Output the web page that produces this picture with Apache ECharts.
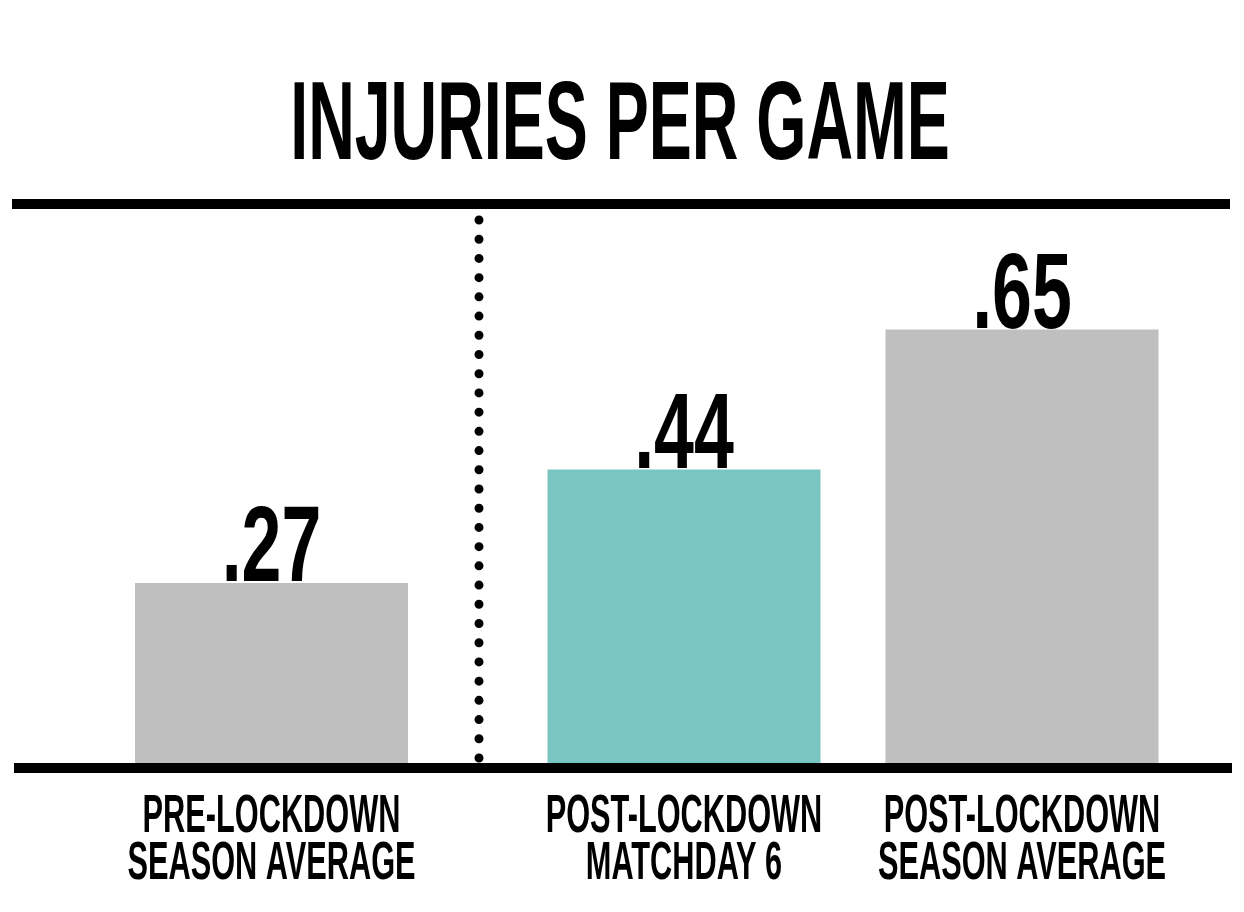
<!DOCTYPE html>
<html>
<head>
<meta charset="utf-8">
<script src="https://cdn.jsdelivr.net/npm/echarts@6/dist/echarts.min.js"></script>
<style>
  html, body { margin: 0; padding: 0; background: #fff; }
  #chart { width: 1244px; height: 912px; }
</style>
</head>
<body>
<div id="chart"></div>
<script>
// ---------- DATA ----------
const titleText = 'INJURIES PER GAME';
const categories = ['PRE-LOCKDOWN\nSEASON AVERAGE', 'POST-LOCKDOWN\nMATCHDAY 6', 'POST-LOCKDOWN\nSEASON AVERAGE'];
const values = [0.27, 0.44, 0.65];
const valueLabels = ['.27', '.44', '.65'];
const preLockdownCount = 1; // first category is pre-lockdown, rest are post-lockdown

// ---------- STYLE ----------
const FONT = '"Liberation Sans", Arial, sans-serif';
const GREY = '#bfbfbf';
const TEAL = '#78c5c1';
const HIGHLIGHT_INDEX = 1;
const BAR_WIDTH = 273;
const GRID_TOP = 96;
const GRID_BOTTOM = 149;

const chart = echarts.init(document.getElementById('chart'));

const groups = [
  { cats: categories.slice(0, preLockdownCount), vals: values.slice(0, preLockdownCount), offset: 0 },
  { cats: categories.slice(preLockdownCount), vals: values.slice(preLockdownCount), offset: preLockdownCount }
];
const gridDefs = [
  { left: 100, width: 343, top: GRID_TOP, bottom: GRID_BOTTOM },
  { left: 515, width: 676, top: GRID_TOP, bottom: GRID_BOTTOM }
];

function labelRenderer(offset) {
  return function (params, api) {
    const gi = offset + params.dataIndex;
    const top = api.coord([api.value(0), api.value(1)]);
    const base = api.coord([api.value(0), 0]);
    const lines = categories[gi].split('\n');
    const children = [{
      type: 'text', x: top[0], y: top[1] - 31, scaleX: 0.67,
      style: { text: valueLabels[gi], font: 'bold 107px ' + FONT, fill: '#000', align: 'center', verticalAlign: 'middle' }
    }];
    lines.forEach(function (ln, i) {
      children.push({
        type: 'text', x: base[0], y: base[1] + 54 + i * 47.5, scaleX: 0.58,
        style: { text: ln, font: 'bold 53px ' + FONT, fill: '#000', align: 'center', verticalAlign: 'middle' }
      });
    });
    return { type: 'group', children: children };
  };
}

const series = [];
groups.forEach(function (g, k) {
  series.push({
    type: 'bar', xAxisIndex: k, yAxisIndex: k, barWidth: BAR_WIDTH, silent: true,
    data: g.vals.map(function (v, i) {
      return { value: v, itemStyle: { color: (g.offset + i) === HIGHLIGHT_INDEX ? TEAL : GREY } };
    }),
    z: 2
  });
  series.push({
    type: 'custom', xAxisIndex: k, yAxisIndex: k, clip: false, silent: true, z: 5,
    data: g.vals.map(function (v, i) { return [i, v]; }),
    renderItem: labelRenderer(g.offset)
  });
});

const option = {
  animation: false,
  backgroundColor: '#fff',
  grid: gridDefs,
  xAxis: groups.map(function (g, k) {
    return { type: 'category', gridIndex: k, data: g.cats, show: false };
  }),
  yAxis: groups.map(function (g, k) {
    return { type: 'value', gridIndex: k, min: 0, max: 1, show: false };
  }),
  series: series,
  graphic: [
    { type: 'text', x: 620, y: 128, scaleX: 0.576, z: 10,
      style: { text: titleText, font: 'bold 112px ' + FONT, fill: '#000', align: 'center', verticalAlign: 'middle' } },
    { type: 'rect', shape: { x: 12, y: 199, width: 1218, height: 10 }, style: { fill: '#000' }, z: 10 },
    { type: 'rect', shape: { x: 14, y: 763, width: 1218, height: 10 }, style: { fill: '#000' }, z: 10 },
    { type: 'line', shape: { x1: 479, y1: 220, x2: 479, y2: 758 }, z: 10,
      style: { stroke: '#000', lineWidth: 9, lineCap: 'round', lineDash: [0, 19.214] } }
  ]
};
chart.setOption(option);
</script>
</body>
</html>
